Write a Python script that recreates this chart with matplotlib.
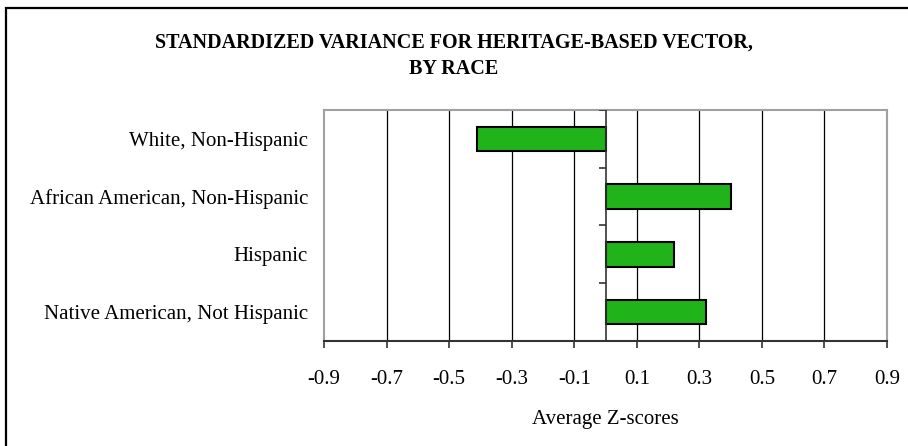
import matplotlib.pyplot as plt
import matplotlib.patches as patches

# Average Z-scores by race
races = ['White, Non-Hispanic', 'African American, Non-Hispanic',
         'Hispanic', 'Native American, Not Hispanic']
zscores = [-0.41, 0.40, 0.22, 0.32]
xticks = [-0.9, -0.7, -0.5, -0.3, -0.1, 0.1, 0.3, 0.5, 0.7, 0.9]

plt.rcParams['font.family'] = ['Liberation Serif', 'DejaVu Serif']

fig = plt.figure(figsize=(9.08, 4.46), dpi=100)
ax = fig.add_axes([324 / 908, 1 - 341 / 446, (887 - 324) / 908, (341 - 110) / 446])

# outer border of the figure (only top and left visible in the reference)
fig.patches.append(patches.Rectangle((6 / 908, -0.1), 1.2, 1 - 8 / 446 + 0.1,
                                     transform=fig.transFigure, fill=False,
                                     edgecolor='black', linewidth=1.6))

ypos = list(range(len(races)))
ax.barh(ypos, zscores, height=0.42, color='#21b41a', edgecolor='black',
        linewidth=1.5, zorder=3)

ax.set_ylim(len(races) - 0.5, -0.5)
ax.set_xlim(-0.9, 0.9)

# vertical gridlines at the inner ticks
for x in xticks[1:-1]:
    ax.axvline(x, color='black', linewidth=0.9, zorder=1)

# zero axis with tick marks between categories
ax.axvline(0, color='#333333', linewidth=1.2, zorder=4)
bounds = [i + 0.5 for i in range(-1, len(races))]
ax.hlines(bounds, -0.022, 0, color='#333333', linewidth=1.2, zorder=4)

ax.set_yticks(ypos)
ax.set_yticklabels(races, fontsize=15)
ax.tick_params(axis='y', length=0, pad=11.5)

ax.set_xticks(xticks)
ax.set_xticklabels(['%.1f' % v for v in xticks], fontsize=15)
ax.tick_params(axis='x', length=5, width=1.2, color='#333333', pad=16)
ax.set_xlabel('Average Z-scores', fontsize=15, labelpad=15)

for side in ['left', 'top', 'right']:
    ax.spines[side].set_color('#a0a0a0')
    ax.spines[side].set_linewidth(1.5)
ax.spines['bottom'].set_color('#333333')
ax.spines['bottom'].set_linewidth(1.5)

fig.text(0.5, 1 - 43 / 446, 'STANDARDIZED VARIANCE FOR HERITAGE-BASED VECTOR,',
         ha='center', va='center', fontsize=14.5, fontweight='bold')
fig.text(0.5, 1 - 69 / 446, 'BY RACE', ha='center', va='center',
         fontsize=14.5, fontweight='bold')

fig.savefig('out.png', dpi=100)
